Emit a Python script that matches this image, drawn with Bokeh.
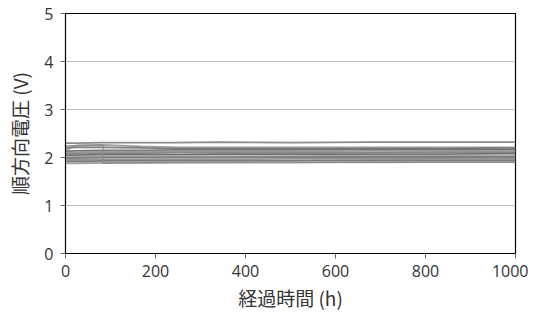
from bokeh.plotting import figure
from bokeh.models import FixedTicker
from bokeh.embed import file_html
from bokeh.resources import INLINE

hours = [0, 24, 84, 168, 250, 336, 500, 672, 840, 1000]
series = [
    [2.30, 2.30, 2.31, 2.31, 2.31, 2.32, 2.31, 2.32, 2.32, 2.32],
    [2.15, 2.25, 2.26, 2.23, 2.21, 2.21, 2.21, 2.21, 2.21, 2.21],
    [2.20, 2.21, 2.21, 2.20, 2.19, 2.19, 2.19, 2.19, 2.19, 2.20],
    [2.13, 2.14, 2.15, 2.15, 2.16, 2.16, 2.16, 2.17, 2.17, 2.17],
    [2.10, 2.11, 2.12, 2.12, 2.13, 2.13, 2.13, 2.14, 2.14, 2.14],
    [2.08, 2.08, 2.09, 2.09, 2.10, 2.10, 2.10, 2.10, 2.11, 2.11],
    [2.05, 2.05, 2.06, 2.06, 2.06, 2.07, 2.07, 2.07, 2.07, 2.08],
    [2.02, 2.02, 2.02, 2.03, 2.03, 2.03, 2.03, 2.04, 2.04, 2.04],
    [1.99, 1.99, 2.00, 2.00, 2.00, 2.00, 2.01, 2.01, 2.01, 2.01],
    [1.95, 1.95, 1.96, 1.96, 1.96, 1.96, 1.97, 1.97, 1.97, 1.97],
    [1.92, 1.92, 1.93, 1.93, 1.93, 1.93, 1.93, 1.94, 1.94, 1.94],
    [1.88, 1.88, 1.89, 1.89, 1.90, 1.90, 1.90, 1.91, 1.91, 1.91],
]
jump_hours = [0, 84, 84, 120, 1000]
jump_values = [2.24, 2.26, 1.88, 1.89, 1.90]
colors = ["#8c8c8c", "#a0a0a0", "#7f7f7f", "#737373", "#999999", "#8a8a8a",
          "#6e6e6e", "#a6a6a6", "#808080", "#939393", "#7a7a7a", "#9e9e9e"]
x_ticks = [0, 200, 400, 600, 800, 1000]
y_ticks = [0, 1, 2, 3, 4, 5]

p = figure(width=528, height=313, x_range=(0, 1000), y_range=(0, 5),
           output_backend="svg", toolbar_location=None,
           min_border_left=65, min_border_right=13, min_border_top=13, min_border_bottom=40)

for vals, c in zip(series, colors):
    p.line(hours, vals, line_color=c, line_width=1.8)
p.line(jump_hours, jump_values, line_color="#8c8c8c", line_width=1.3)

p.outline_line_color = "black"
p.outline_line_width = 1.2
p.xgrid.visible = False
p.ygrid.ticker = FixedTicker(ticks=[1, 2, 3, 4])
p.ygrid.grid_line_color = "#bcbcbc"

p.xaxis.ticker = FixedTicker(ticks=x_ticks)
p.yaxis.ticker = FixedTicker(ticks=y_ticks)
for ax in (p.xaxis[0], p.yaxis[0]):
    ax.axis_line_color = "black"
    ax.major_tick_line_color = "#666666"
    ax.major_tick_in = 0
    ax.major_tick_out = 5
    ax.minor_tick_line_color = None
    ax.major_label_text_font = "Open Sans"
    ax.major_label_text_font_size = "16px"
    ax.major_label_text_color = "#333333"
    ax.axis_label_text_font = "Noto Sans CJK JP"
    ax.axis_label_text_font_size = "19px"
    ax.axis_label_text_font_style = "normal"
    ax.axis_label_text_color = "#333333"

p.xaxis.axis_label = "経過時間 (h)"
p.yaxis.axis_label = "順方向電圧 (V)"
p.xaxis.major_label_standoff = 6
p.yaxis.major_label_standoff = 7
p.xaxis.axis_label_standoff = 4
p.yaxis.axis_label_standoff = 8

open("out.html", "w").write(file_html(p, INLINE))
